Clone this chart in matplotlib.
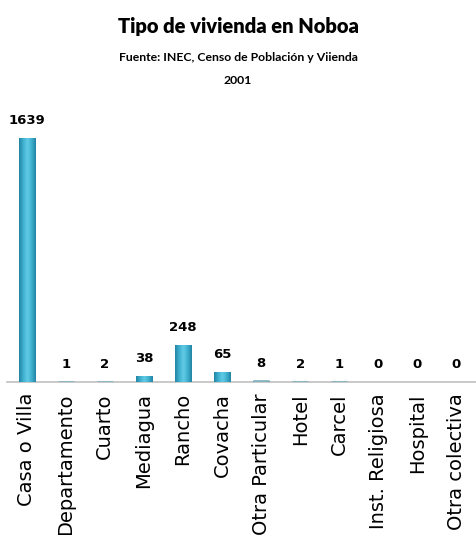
import numpy as np
import matplotlib.pyplot as plt
from matplotlib.colors import LinearSegmentedColormap

tipos = ["Casa o Villa", "Departamento", "Cuarto", "Mediagua", "Rancho",
         "Covacha", "Otra Particular", "Hotel", "Carcel", "Inst. Religiosa",
         "Hospital", "Otra colectiva"]
viviendas = [1639, 1, 2, 38, 248, 65, 8, 2, 1, 0, 0, 0]

fig = plt.figure(figsize=(4.76, 5.35), dpi=100)
ax = fig.add_axes([0.015, 0.286, 0.985, 0.501])

x = np.arange(len(tipos))
bars = ax.bar(x, viviendas, width=0.41, color="#3aa6c6", zorder=2)

# cylinder-like shading across each bar
cmap = LinearSegmentedColormap.from_list(
    "cyl", ["#2484a4", "#3fb0cf", "#62cbe6", "#3fb0cf", "#2484a4"])
grad = np.linspace(0, 1, 64).reshape(1, -1)
for b, v in zip(bars, viviendas):
    w, h = b.get_width(), b.get_height()
    cx = b.get_x() + w / 2
    ax.text(cx, h + 75, str(v), ha="center", va="bottom", fontsize=9.5,
            fontweight="bold", family="DejaVu Sans", zorder=4)
    if v == 0:
        b.set_visible(False)
        continue
    im = ax.imshow(grad, cmap=cmap, aspect="auto", zorder=3,
                   extent=[b.get_x(), b.get_x() + w, 0, h],
                   interpolation="bilinear")
    im.set_clip_path(b)
    # small values still show up as a short dash on the axis
    if v < 10:
        ax.plot([b.get_x(), b.get_x() + w], [h, h], color="#86b3c0",
                lw=2, solid_capstyle="butt", zorder=3)

ax.set_xlim(-0.5, 11.5)
ax.set_ylim(0, 1800)
ax.set_yticks([])
ax.set_xticks(x)
ax.set_xticklabels(tipos, rotation=90, fontsize=14, family="DejaVu Sans")
ax.tick_params(axis="x", length=0, pad=8)
for s in ["top", "right", "left"]:
    ax.spines[s].set_visible(False)
ax.spines["bottom"].set_color("#c0c0c0")
ax.spines["bottom"].set_linewidth(1.2)
ax.spines["bottom"].set_zorder(1)

fig.text(0.5, 0.951, "Tipo de vivienda en Noboa", ha="center", va="center",
         fontsize=14.5, fontweight="heavy", family="Lato")
fig.text(0.5, 0.892, "Fuente: INEC, Censo de Población y Viienda",
         ha="center", va="center", fontsize=8.8, fontweight="bold", family="Lato")
fig.text(0.5, 0.849, "2001", ha="center", va="center", fontsize=8.8,
         fontweight="bold", family="Lato")

fig.savefig("out.png", dpi=100)
